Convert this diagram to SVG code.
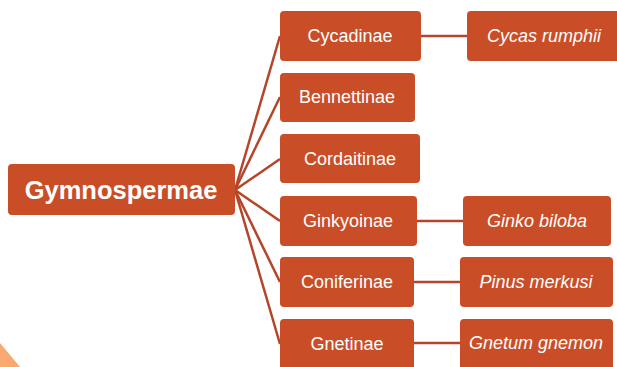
<svg xmlns="http://www.w3.org/2000/svg" width="617" height="367" viewBox="0 0 617 367">
<style>
.box{fill:#C94E27;}
.t{font-family:"Liberation Sans",Arial,sans-serif;font-size:18px;fill:#FFFFFF;text-anchor:middle;dominant-baseline:central;}
.it{font-style:italic;}
.main{font-weight:bold;font-size:25.5px;}
.c{stroke:#B4452A;stroke-width:2.5;fill:none;}
</style>
<rect width="617" height="367" fill="#FFFFFF"/>
<polygon points="0,343 20,367 0,367" fill="#F9A870"/>
<g id="connectors">
<line class="c" x1="235" y1="190" x2="280" y2="36"/>
<line class="c" x1="235" y1="190" x2="280" y2="97"/>
<line class="c" x1="235" y1="190" x2="280" y2="159"/>
<line class="c" x1="235" y1="190" x2="280" y2="221"/>
<line class="c" x1="235" y1="190" x2="280" y2="282"/>
<line class="c" x1="235" y1="190" x2="280" y2="344"/>
<line class="c" x1="420" y1="36" x2="467" y2="36"/>
<line class="c" x1="417" y1="221" x2="463" y2="221"/>
<line class="c" x1="414" y1="282" x2="460" y2="282"/>
<line class="c" x1="414" y1="343" x2="460" y2="343"/>
</g>
<g id="gymnospermae">
<rect class="box" x="8" y="164" width="227" height="51" rx="4"/>
<text class="t main" x="121" y="190">Gymnospermae</text>
</g>
<g id="cycadinae">
<rect class="box" x="280" y="11" width="141" height="50" rx="4"/>
<text class="t" x="350" y="36">Cycadinae</text>
</g>
<g id="bennettinae">
<rect class="box" x="280" y="73" width="135" height="49" rx="4"/>
<text class="t" x="347" y="97">Bennettinae</text>
</g>
<g id="cordaitinae">
<rect class="box" x="280" y="134" width="140" height="49" rx="4"/>
<text class="t" x="350" y="159">Cordaitinae</text>
</g>
<g id="ginkyoinae">
<rect class="box" x="280" y="196" width="137" height="50" rx="4"/>
<text class="t" x="348" y="221">Ginkyoinae</text>
</g>
<g id="coniferinae">
<rect class="box" x="280" y="257" width="134" height="50" rx="4"/>
<text class="t" x="347" y="282">Coniferinae</text>
</g>
<g id="gnetinae">
<rect class="box" x="280" y="319" width="134" height="52" rx="4"/>
<text class="t" x="347" y="344">Gnetinae</text>
</g>
<g id="cycas-rumphii">
<rect class="box" x="467" y="11" width="156" height="50" rx="4"/>
<text class="t it" x="544" y="36">Cycas rumphii</text>
</g>
<g id="ginko-biloba">
<rect class="box" x="463" y="196" width="148" height="50" rx="4"/>
<text class="t it" x="537" y="221">Ginko biloba</text>
</g>
<g id="pinus-merkusi">
<rect class="box" x="460" y="257" width="153" height="50" rx="4"/>
<text class="t it" x="536" y="282">Pinus merkusi</text>
</g>
<g id="gnetum-gnemon">
<rect class="box" x="460" y="319" width="153" height="52" rx="4"/>
<text class="t it" x="536" y="343">Gnetum gnemon</text>
</g>
</svg>
